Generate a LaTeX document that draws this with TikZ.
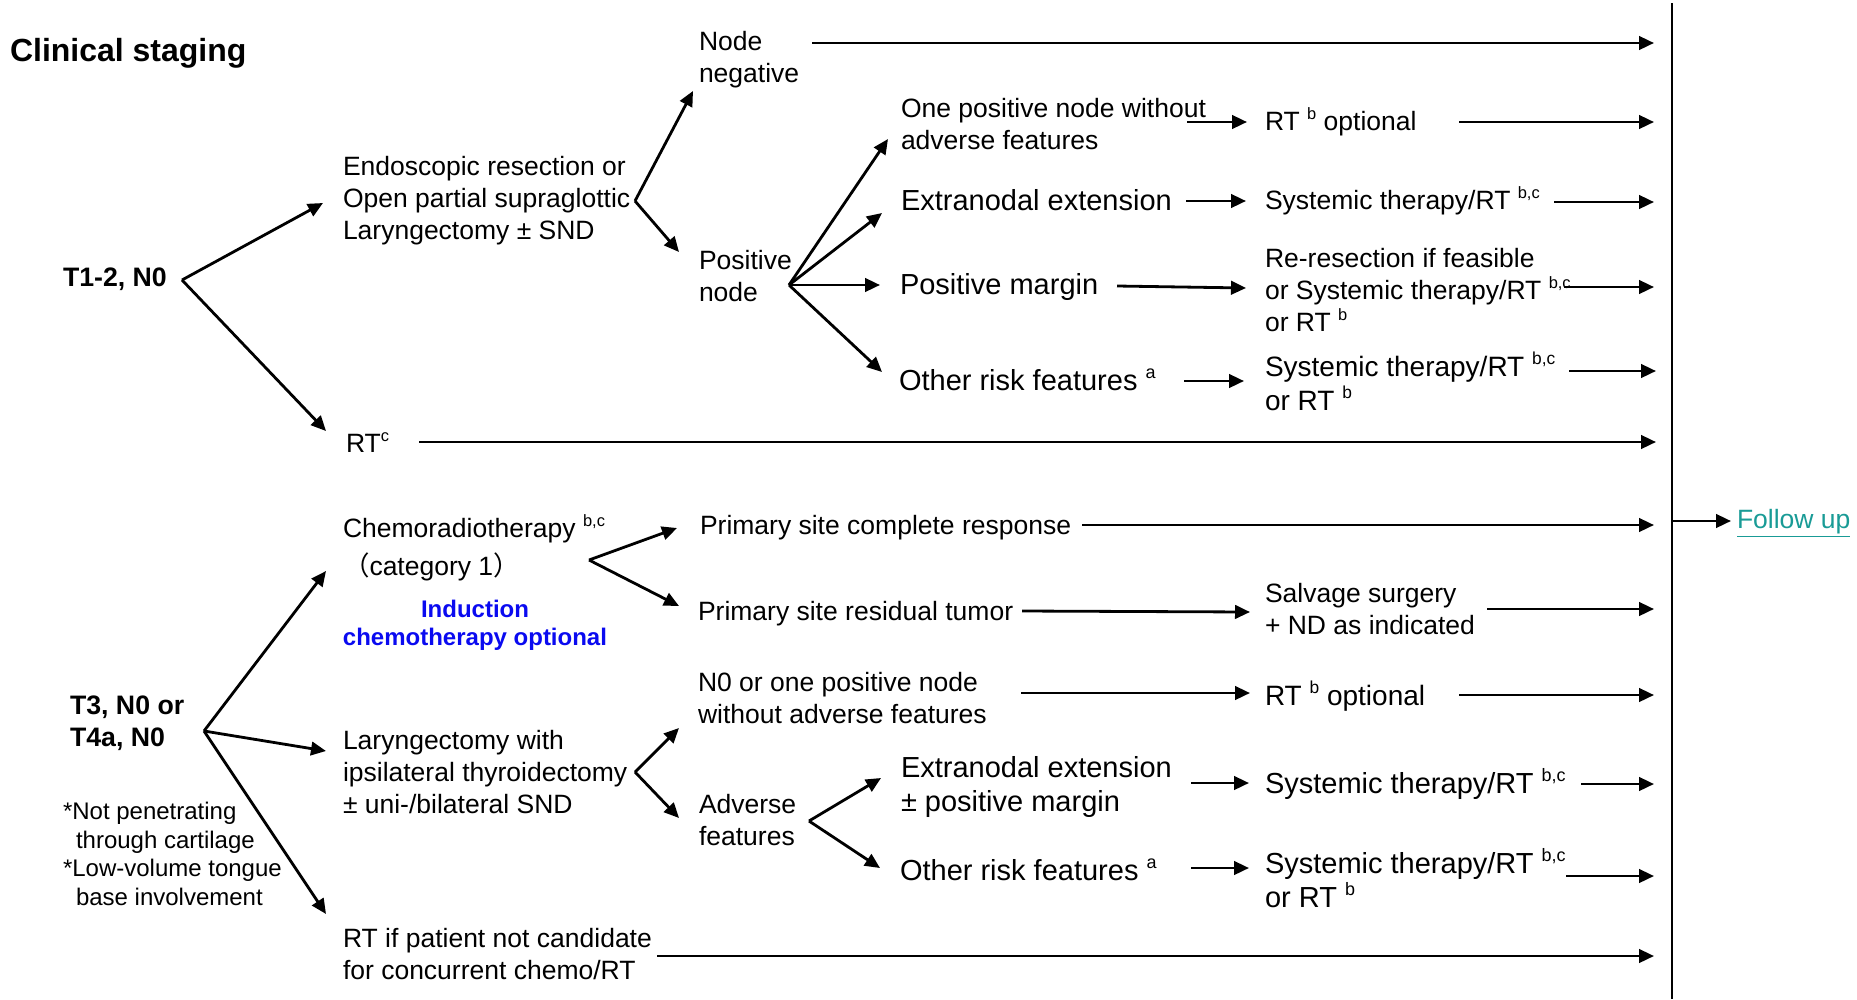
\documentclass[tikz,border=0pt]{standalone}
\usepackage{fontspec}
\setmainfont{Liberation Sans}
\newfontfamily\cjk{Noto Sans CJK SC}
\usepackage{graphicx}
\usetikzlibrary{arrows.meta}
\definecolor{indblue}{RGB}{10,10,240}
\definecolor{futeal}{RGB}{25,155,150}
\newcommand{\supx}[1]{\raisebox{0.42em}{\scalebox{0.62}{#1}}}
\begin{document}
\begin{tikzpicture}[x=1pt,y=-1pt,
  txt/.style={anchor=west,inner sep=0pt,outer sep=0pt,align=left,font=\fontsize{26.5}{32}\selectfont},
  bigtxt/.style={txt,font=\fontsize{29}{34.5}\selectfont},
  midtxt/.style={txt,font=\fontsize{28}{34}\selectfont},
  boldtxt/.style={txt,font=\bfseries\fontsize{26.7}{32}\selectfont},
  arr/.style={line width=2.8pt,-{Triangle[length=15pt,width=13.5pt]}},
  rail/.style={line width=2pt}]
\useasboundingbox (0,0) rectangle (1857,999);

% ---------- text nodes ----------
\node[txt,font=\bfseries\fontsize{32}{38}\selectfont] (title) at (10,53) {Clinical staging};
\node[boldtxt] (t12) at (63,279) {T1-2, N0};
\node[txt] (endo) at (343,201) {Endoscopic resection or\\Open partial supraglottic\\Laryngectomy ± SND};
\node[txt] (nneg) at (699,60) {Node\\negative};
\node[txt] (pnode) at (699,276) {Positive\\node};
\node[txt] (onepos) at (901,124) {One positive node without\\adverse features};
\node[bigtxt] (ene1) at (901,200) {Extranodal extension};
\node[bigtxt] (pmarg) at (900,287) {Positive margin};
\node[bigtxt] (orf1) at (899,380) {Other risk features \supx{a}};
\node[txt] (rtc) at (346,443) {RT\supx{c}};
\node[txt] (rtb1) at (1265,122) {RT \supx{b} optional};
\node[txt] (sys1) at (1265,201) {Systemic therapy/RT \supx{b,c}};
\node[txt] (reres) at (1265,290) {Re-resection if feasible\\or Systemic therapy/RT \supx{b,c}\\or RT \supx{b}};
\node[midtxt] (sys2) at (1265,381) {Systemic therapy/RT \supx{b,c}\\or RT \supx{b}};

\node[txt,font=\fontsize{26.5}{38}\selectfont] (chemo) at (343,548) {Chemoradiotherapy \supx{b,c}\\{\cjk （}category 1{\cjk ）}};
\node[txt,anchor=center,align=center,text=indblue,font=\bfseries\fontsize{24}{28}\selectfont] (induct) at (475,625) {Induction\\chemotherapy optional};
\node[txt] (pscr) at (700,528) {Primary site complete response};
\node[txt] (psrt) at (698,614) {Primary site residual tumor};
\node[txt] (salv) at (1265,609) {Salvage surgery\\+ ND as indicated};
\node[txt] (n0one) at (698,698) {N0 or one positive node\\without adverse features};
\node[midtxt] (rtb2) at (1265,696) {RT \supx{b} optional};
\node[boldtxt] (t3) at (70,723) {T3, N0 or\\T4a, N0};
\node[txt] (laryn) at (343,772) {Laryngectomy with\\ipsilateral thyroidectomy\\± uni-/bilateral SND};
\node[txt] (adv) at (699,820) {Adverse\\features};
\node[bigtxt] (ene2) at (901,787) {Extranodal extension\\± positive margin};
\node[bigtxt] (sys3) at (1265,784) {Systemic therapy/RT \supx{b,c}};
\node[bigtxt] (orf2) at (900,870) {Other risk features \supx{a}};
\node[bigtxt] (sys4) at (1265,878) {Systemic therapy/RT \supx{b,c}\\or RT \supx{b}};
\node[txt,font=\fontsize{24}{28.7}\selectfont] (note) at (63,854) {*Not penetrating\\\hspace*{13pt}through cartilage\\{}*Low-volume tongue\\\hspace*{13pt}base involvement};
\node[txt] (rtif) at (343,954) {RT if patient not candidate\\for concurrent chemo/RT};
\node[txt,text=futeal] (fu) at (1737,523) {\underline{Follow up}};

% ---------- fork points and rail ----------
\coordinate (f1) at (182,280);
\coordinate (f2) at (635,201);
\coordinate (f3) at (789,285);
\coordinate (f4) at (204,731);
\coordinate (f5) at (589,560);
\coordinate (f6) at (635,772);
\coordinate (f7) at (809,821);
\coordinate (vtop) at (1672,3);
\coordinate (vbot) at (1672,999);
\coordinate (vfu) at (1672,521);
\coordinate (r1) at (1654,43);
\coordinate (r2) at (1654,122);
\coordinate (r3) at (1654,202);
\coordinate (r4) at (1654,287);
\coordinate (r5) at (1656,371);
\coordinate (r6) at (1656,442);
\coordinate (r7) at (1654,525);
\coordinate (r8) at (1654,609);
\coordinate (r9) at (1654,695);
\coordinate (r10) at (1654,784);
\coordinate (r11) at (1654,876);
\coordinate (r12) at (1654,956);

% ---------- connectors ----------
\draw[arr] (f1) -- ([shift={(-20,2)}]endo.west);
\draw[arr] (f1) -- ([shift={(-20,-12)}]rtc.west);
\draw[arr] (f2) -- ([shift={(-6,31)}]nneg.west);
\draw[arr] (f2) -- ([shift={(-20,-24)}]pnode.west);
\draw[arr] ([shift={(113,-17)}]nneg.west) -- (r1);
\draw[arr] (f3) -- ([shift={(-13,15)}]onepos.west);
\draw[arr] (f3) -- ([shift={(-19,13)}]ene1.west);
\draw[arr] (f3) -- ([shift={(-20,-2)}]pmarg.west);
\draw[arr] (f3) -- ([shift={(-17,-8)}]orf1.west);
\draw[arr] ([shift={(286,-2)}]onepos.west) -- ([shift={(-18,0)}]rtb1.west);
\draw[arr] ([shift={(194,0)}]rtb1.west) -- (r2);
\draw[arr] ([shift={(285,1)}]ene1.west) -- ([shift={(-19,0)}]sys1.west);
\draw[arr] ([shift={(289,1)}]sys1.west) -- (r3);
\draw[arr] ([shift={(217,-1)}]pmarg.west) -- ([shift={(-19,-2)}]reres.west);
\draw[arr] ([shift={(299,-3)}]reres.west) -- (r4);
\draw[arr] ([shift={(285,1)}]orf1.west) -- ([shift={(-21,0)}]sys2.west);
\draw[arr] ([shift={(304,-10)}]sys2.west) -- (r5);
\draw[arr] ([shift={(73,-1)}]rtc.west) -- (r6);

\draw[arr] (f4) -- ([shift={(-17,23)}]chemo.west);
\draw[arr] (f4) -- ([shift={(-17,-21)}]laryn.west);
\draw[arr] (f4) -- ([shift={(-17,-40)}]rtif.west);
\draw[arr] (f5) -- ([shift={(-23,0)}]pscr.west);
\draw[arr] (f5) -- ([shift={(-19,-8)}]psrt.west);
\draw[arr] ([shift={(382,-3)}]pscr.west) -- (r7);
\draw[arr] ([shift={(324,-3)}]psrt.west) -- ([shift={(-15,3)}]salv.west);
\draw[arr] ([shift={(222,0)}]salv.west) -- (r8);
\draw[arr] (f6) -- ([shift={(-19,30)}]n0one.west);
\draw[arr] (f6) -- ([shift={(-20,-2)}]adv.west);
\draw[arr] ([shift={(323,-5)}]n0one.west) -- ([shift={(-15,-3)}]rtb2.west);
\draw[arr] ([shift={(194,-1)}]rtb2.west) -- (r9);
\draw[arr] (f7) -- ([shift={(-20,-9)}]ene2.west);
\draw[arr] (f7) -- ([shift={(-20,-2)}]orf2.west);
\draw[arr] ([shift={(290,-4)}]ene2.west) -- ([shift={(-16,-1)}]sys3.west);
\draw[arr] ([shift={(316,0)}]sys3.west) -- (r10);
\draw[arr] ([shift={(291,-2)}]orf2.west) -- ([shift={(-16,-10)}]sys4.west);
\draw[arr] ([shift={(301,-2)}]sys4.west) -- (r11);
\draw[arr] ([shift={(314,2)}]rtif.west) -- (r12);

\draw[rail] (vtop) -- (vbot);
\draw[arr] (vfu) -- ([shift={(-6,-2)}]fu.west);
\end{tikzpicture}
\end{document}
